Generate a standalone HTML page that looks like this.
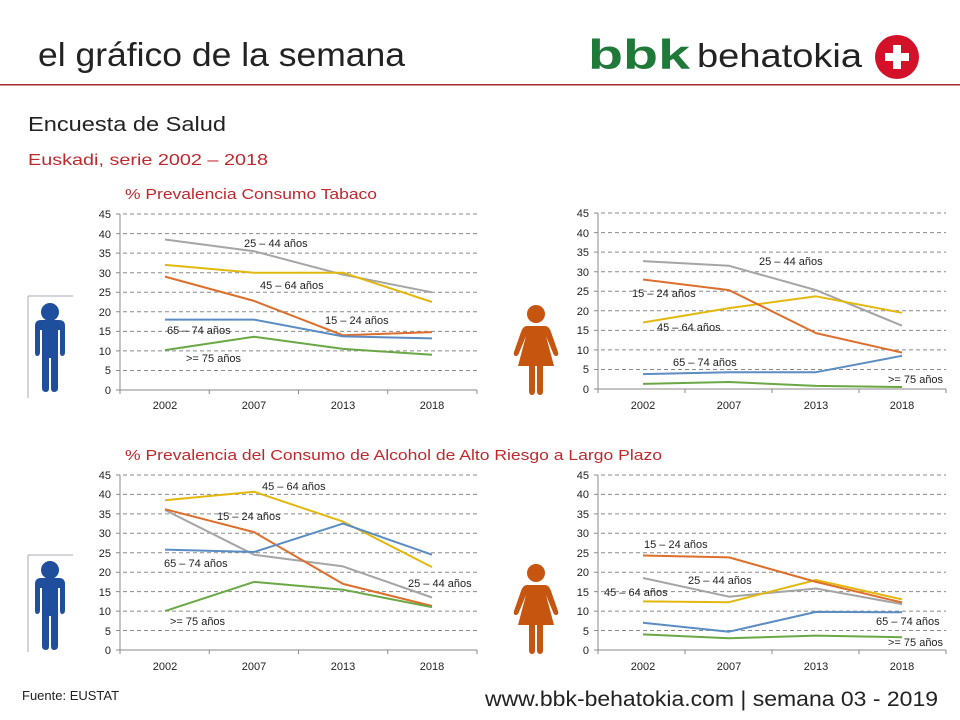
<!DOCTYPE html>
<html><head><meta charset="utf-8"><style>
html,body{margin:0;padding:0;background:#fff;}
svg{display:block;font-family:"Liberation Sans",sans-serif;}
.t{font-size:11px;fill:#222;}
.tk{font-size:11px;fill:#222;text-anchor:end;}
.tx{font-size:11px;fill:#222;text-anchor:middle;}
</style></head><body>
<svg id="s" width="960" height="720" viewBox="0 0 960 720" xmlns="http://www.w3.org/2000/svg">
<rect width="960" height="720" fill="#fff"/>
<text x="38" y="66" font-size="33" fill="#222" textLength="367" lengthAdjust="spacingAndGlyphs">el gráfico de la semana</text>
<text x="588" y="69" font-size="42" fill="#1f7a3a" font-weight="bold" textLength="102" lengthAdjust="spacingAndGlyphs">bbk</text>
<text x="697" y="67" font-size="33" fill="#222" textLength="165" lengthAdjust="spacingAndGlyphs">behatokia</text>
<circle cx="897" cy="57" r="22" fill="#d3122a"/>
<rect x="893" y="45" width="8" height="24" fill="#fff"/><rect x="885" y="53" width="24" height="8" fill="#fff"/>
<rect x="0" y="84" width="960" height="1.5" fill="#a52a2a"/>
<text x="28" y="131" font-size="20" fill="#222" textLength="198" lengthAdjust="spacingAndGlyphs">Encuesta de Salud</text>
<text x="28" y="165" font-size="16" fill="#c0282d" textLength="240" lengthAdjust="spacingAndGlyphs">Euskadi, serie 2002 – 2018</text>
<text x="125" y="199" font-size="15" fill="#c0282d" textLength="252" lengthAdjust="spacingAndGlyphs">% Prevalencia Consumo Tabaco</text>
<text x="125" y="460" font-size="15" fill="#c0282d" textLength="537" lengthAdjust="spacingAndGlyphs">% Prevalencia del Consumo de Alcohol de Alto Riesgo a Largo Plazo</text>
<text x="22" y="700" font-size="13" fill="#222">Fuente: EUSTAT</text>
<text x="485" y="706" font-size="21" fill="#222" textLength="453" lengthAdjust="spacingAndGlyphs">www.bbk-behatokia.com | semana 03 - 2019</text>
<g id="grid"></g>
<g id="lines"></g>
<g fill="#1f4e9c">
<path d="M28 296 H73" stroke="#aab" stroke-width="1"/><path d="M28 296 V398" stroke="#aab" stroke-width="1"/>
<circle cx="50" cy="312" r="9"/><path d="M35 326 Q35 320 41 320 H59 Q65 320 65 326 V352 Q65 356 62 356 Q60 356 60 352 V330 H58 V388 Q58 392 54 392 Q51 392 51 388 V358 H49 V388 Q49 392 46 392 Q42 392 42 388 V330 H40 V352 Q40 356 37 356 Q35 356 35 352 Z"/>
<path d="M28 555 H73" stroke="#aab" stroke-width="1"/><path d="M28 555 V652" stroke="#aab" stroke-width="1"/>
<circle cx="50" cy="570" r="9"/><path d="M35 584 Q35 578 41 578 H59 Q65 578 65 584 V610 Q65 614 62 614 Q60 614 60 610 V588 H58 V646 Q58 650 54 650 Q51 650 51 646 V616 H49 V646 Q49 650 46 650 Q42 650 42 646 V588 H40 V610 Q40 614 37 614 Q35 614 35 610 Z"/>
</g>
<g fill="#c6550f">
<circle cx="536" cy="314" r="9"/><path d="M527 326 H545 Q549 326 551 332 L558 352 Q559 356 556 356 Q554 356 553 353 L546 336 L554 366 H543 V391 Q543 395 540 395 Q537 395 537 391 V366 H535 V391 Q535 395 532 395 Q529 395 529 391 V366 H518 L526 336 L519 353 Q518 356 516 356 Q513 356 514 352 L521 332 Q523 326 527 326 Z"/>
<circle cx="536" cy="573" r="9"/><path d="M527 585 H545 Q549 585 551 591 L558 611 Q559 615 556 615 Q554 615 553 612 L546 595 L554 625 H543 V650 Q543 654 540 654 Q537 654 537 650 V625 H535 V650 Q535 654 532 654 Q529 654 529 650 V625 H518 L526 595 L519 612 Q518 615 516 615 Q513 615 514 611 L521 591 Q523 585 527 585 Z"/>
</g>
<g class="tk">
<text x="111" y="394">0</text><text x="111" y="374">5</text><text x="111" y="355">10</text><text x="111" y="335">15</text><text x="111" y="316">20</text><text x="111" y="296">25</text><text x="111" y="277">30</text><text x="111" y="257">35</text><text x="111" y="238">40</text><text x="111" y="218">45</text>
<text x="589" y="393">0</text><text x="589" y="373">5</text><text x="589" y="354">10</text><text x="589" y="334">15</text><text x="589" y="315">20</text><text x="589" y="295">25</text><text x="589" y="276">30</text><text x="589" y="256">35</text><text x="589" y="237">40</text><text x="589" y="217">45</text>
<text x="111" y="654">0</text><text x="111" y="635">5</text><text x="111" y="615">10</text><text x="111" y="596">15</text><text x="111" y="576">20</text><text x="111" y="557">25</text><text x="111" y="537">30</text><text x="111" y="518">35</text><text x="111" y="498">40</text><text x="111" y="479">45</text>
<text x="589" y="654">0</text><text x="589" y="635">5</text><text x="589" y="615">10</text><text x="589" y="596">15</text><text x="589" y="576">20</text><text x="589" y="557">25</text><text x="589" y="537">30</text><text x="589" y="518">35</text><text x="589" y="498">40</text><text x="589" y="479">45</text>
</g>
<g class="tx">
<text x="165" y="409">2002</text><text x="254" y="409">2007</text><text x="343" y="409">2013</text><text x="432" y="409">2018</text>
<text x="643" y="409">2002</text><text x="729" y="409">2007</text><text x="816" y="409">2013</text><text x="902" y="409">2018</text>
<text x="165" y="670">2002</text><text x="254" y="670">2007</text><text x="343" y="670">2013</text><text x="432" y="670">2018</text>
<text x="643" y="670">2002</text><text x="729" y="670">2007</text><text x="816" y="670">2013</text><text x="902" y="670">2018</text>
</g>
<g class="t">
<text x="244" y="247">25 – 44 años</text><text x="260" y="289">45 – 64 años</text><text x="325" y="324">15 – 24 años</text><text x="167" y="334">65 – 74 años</text><text x="186" y="362">&gt;= 75 años</text>
<text x="759" y="265">25 – 44 años</text><text x="632" y="297">15 – 24 años</text><text x="657" y="331">45 – 64 años</text><text x="673" y="366">65 – 74 años</text><text x="888" y="383">&gt;= 75 años</text>
<text x="262" y="490">45 – 64 años</text><text x="217" y="520">15 – 24 años</text><text x="164" y="567">65 – 74 años</text><text x="408" y="587">25 – 44 años</text><text x="170" y="625">&gt;= 75 años</text>
<text x="644" y="548">15 – 24 años</text><text x="688" y="584">25 – 44 años</text><text x="604" y="596">45 – 64 años</text><text x="876" y="625">65 – 74 años</text><text x="888" y="646">&gt;= 75 años</text>
</g>
</svg>
<script>
var NS="http://www.w3.org/2000/svg";
var C={g:"#a5a5a5",y:"#e2b80f",o:"#dc6f2c",b:"#5b8dc2",gr:"#6aa846"};
var charts=[
{x0:120,x1:477,xs:[165,254,343,432],y0:390,k:3.91,d:{g:[38.5,35.5,29.5,25],y:[32,30,30,22.5],o:[29,22.8,14,14.8],b:[18,18,13.7,13.2],gr:[10.2,13.6,10.5,9]}},
{x0:598,x1:946,xs:[643,729,816,902],y0:389,k:3.91,d:{g:[32.7,31.5,25.3,16.2],o:[28,25.3,14.3,9.3],y:[17,20.7,23.7,19.5],b:[3.8,4.3,4.3,8.5],gr:[1.3,1.8,0.8,0.5]}},
{x0:120,x1:477,xs:[165,254,343,432],y0:650,k:3.89,d:{g:[36,24.5,21.5,13.5],y:[38.5,40.7,33,21.3],o:[36.2,30.3,17,11.3],b:[25.8,25.2,32.5,24.5],gr:[10,17.5,15.5,11]}},
{x0:598,x1:946,xs:[643,729,816,902],y0:650,k:3.89,d:{g:[18.5,13.7,15.8,11.8],y:[12.5,12.3,18,13],o:[24.3,23.8,17.5,12.2],b:[7,4.7,9.8,9.7],gr:[4,3,3.7,3.3]}}];
var G=document.getElementById("grid"),L=document.getElementById("lines");
function el(p,t,a){var e=document.createElementNS(NS,t);for(var k in a)e.setAttribute(k,a[k]);p.appendChild(e);}
charts.forEach(function(c){
 for(var v=5;v<=45;v+=5){var y=c.y0-v*c.k;el(G,"line",{x1:c.x0-4,x2:c.x1,y1:y,y2:y,stroke:"#8a8a8a","stroke-dasharray":"4,3","stroke-width":1});}
 el(G,"line",{x1:c.x0,x2:c.x0,y1:c.y0-45*c.k,y2:c.y0+4,stroke:"#888"});
 el(G,"line",{x1:c.x0-4,x2:c.x1,y1:c.y0,y2:c.y0,stroke:"#888"});
 var w=(c.x1-c.x0)/4;for(var i=0;i<=4;i++){var x=c.x0+i*w;el(G,"line",{x1:x,x2:x,y1:c.y0,y2:c.y0+4,stroke:"#888"});}
 ["g","y","o","b","gr"].forEach(function(s){var pts=c.d[s].map(function(v,i){return c.xs[i]+","+(c.y0-v*c.k).toFixed(1)}).join(" ");
 el(L,"polyline",{points:pts,fill:"none",stroke:C[s],"stroke-width":2,"stroke-linejoin":"round"});});
});
</script>
</body></html>
